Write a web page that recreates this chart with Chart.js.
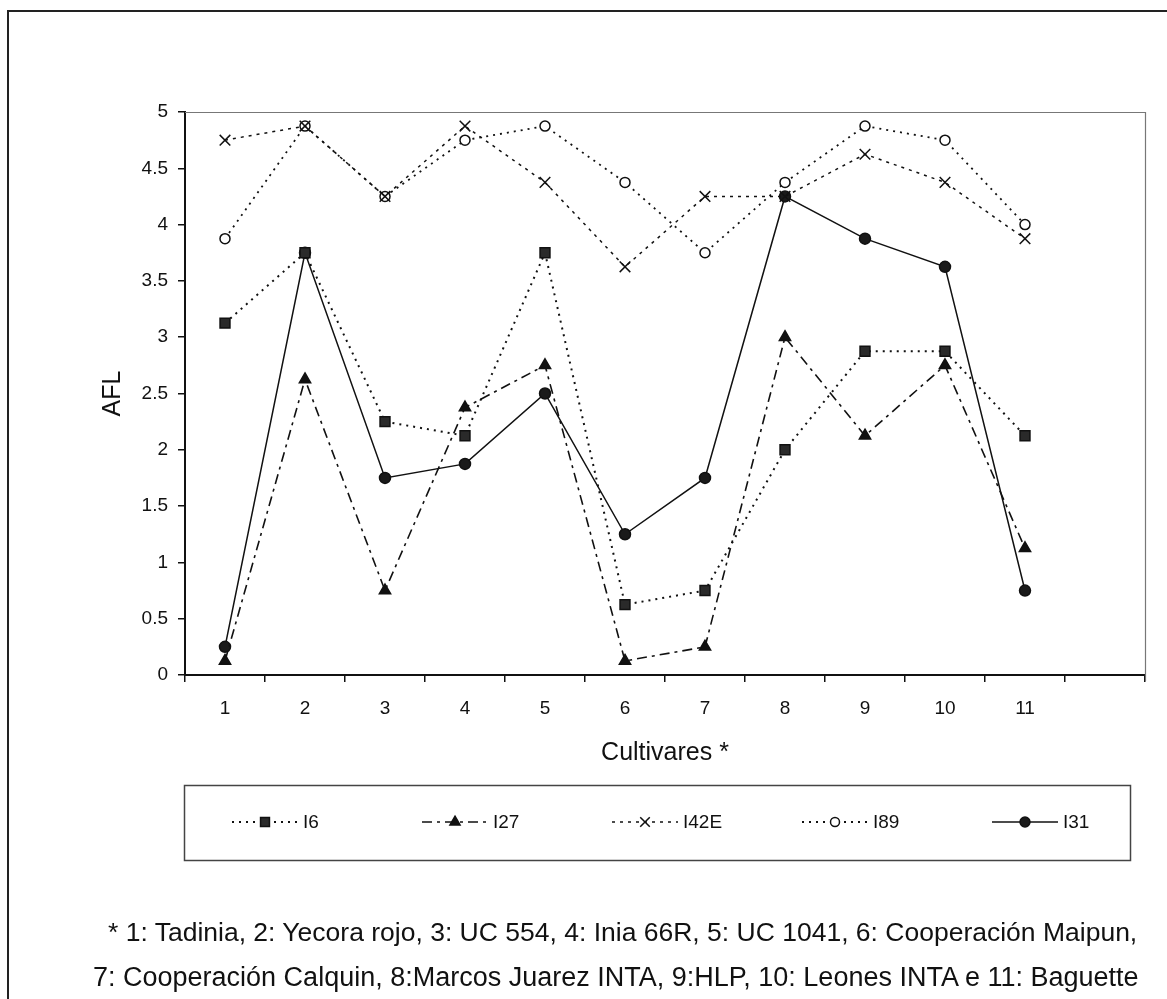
<!DOCTYPE html>
<html>
<head>
<meta charset="utf-8">
<script src="https://cdn.jsdelivr.net/npm/chart.js@4/dist/chart.umd.min.js"></script>
<style>
    body   { margin: 0; background: #fff; }
    #wrap  { position: relative; width: 1167px; height: 999px; overflow: hidden; }
    #frame { position: absolute; left: 7px; top: 10px; right: -10px; bottom: -10px;
             border-left: 2px solid #222; border-top: 2px solid #222; }
    canvas { position: absolute; left: 0; top: 0; }
    .note  { position: absolute; white-space: nowrap; font-family: Arial, "Liberation Sans", sans-serif;
             color: #111; line-height: 30px; }
</style>
</head>
<body>
<div id="wrap">
    <div id="frame"></div>
    <canvas id="afl" width="1167" height="999"></canvas>
    <div class="note" style="left:108px; top:917px; font-size:26.5px">* 1: Tadinia, 2: Yecora rojo, 3: UC 554, 4: Inia 66R, 5: UC 1041, 6: Cooperación Maipun,</div>
    <div class="note" style="left:93px; top:962px; font-size:27px">7: Cooperación Calquin, 8:Marcos Juarez INTA, 9:HLP, 10: Leones INTA e 11: Baguette</div>
</div>
<script>
// one empty slot after cultivar 11, the axis keeps it
let cultivares = ['1', '2', '3', '4', '5', '6', '7', '8', '9', '10', '11', '']

let i6   = [3.125, 3.75, 2.25, 2.125, 3.75, 0.625, 0.75, 2.0, 2.875, 2.875, 2.125]
let i27  = [0.125, 2.625, 0.75, 2.375, 2.75, 0.125, 0.25, 3.0, 2.125, 2.75, 1.125]
let i42e = [4.75, 4.875, 4.25, 4.875, 4.375, 3.625, 4.25, 4.25, 4.625, 4.375, 3.875]
let i89  = [3.875, 4.875, 4.25, 4.75, 4.875, 4.375, 3.75, 4.375, 4.875, 4.75, 4.0]
let i31  = [0.25, 3.75, 1.75, 1.875, 2.5, 1.25, 1.75, 4.25, 3.875, 3.625, 0.75]

let serie = (label, data, dash, style, radius, fill, width) => ({
    label:                label,
    data:                 data,
    borderColor:          '#111',
    borderWidth:          width,
    borderDash:           dash,
    pointStyle:           style,
    pointRadius:          radius,
    pointBackgroundColor: fill,
    pointBorderColor:     '#111',
    pointBorderWidth:     1.5,
    tension:              0
})

let datasets = [
    serie('I6',   i6,   [2, 5],        'rect',     7,   '#2a2a2a', 2),
    serie('I27',  i27,  [10, 5, 3, 5], 'triangle', 6.5, '#111',    1.6),
    serie('I42E', i42e, [3, 5],        'crossRot', 7.5, '#111',    1.5),
    serie('I89',  i89,  [2, 5],        'circle',   5,   '#fff',    1.8),
    serie('I31',  i31,  [],            'circle',   5.5, '#1a1a1a', 1.5)
]

// top/right border of the plot area and the boxed legend under the axis
let extras = {
    id: 'extras',
    afterDraw(chart) {
        let ctx = chart.ctx
        let a   = chart.chartArea

        ctx.save()
        ctx.strokeStyle = '#777'
        ctx.lineWidth   = 1.2
        ctx.beginPath()
        ctx.moveTo(a.left, a.top + 0.5)
        ctx.lineTo(a.right + 0.5, a.top + 0.5)
        ctx.lineTo(a.right + 0.5, a.bottom + 6)
        ctx.stroke()

        ctx.strokeStyle = '#444'
        ctx.lineWidth   = 1.5
        ctx.strokeRect(184.5, 785.5, 946, 75)

        let y = 822
        chart.data.datasets.forEach((ds, i) => {
            let x0 = 232 + 190 * i
            ctx.strokeStyle = ds.borderColor
            ctx.lineWidth   = ds.borderWidth
            ctx.setLineDash(ds.borderDash)
            ctx.beginPath()
            ctx.moveTo(x0, y)
            ctx.lineTo(x0 + 66, y)
            ctx.stroke()
            ctx.setLineDash([])

            ctx.fillStyle   = ds.pointBackgroundColor
            ctx.strokeStyle = ds.pointBorderColor
            ctx.lineWidth   = 1.5
            Chart.helpers.drawPoint(ctx, {
                pointStyle:  ds.pointStyle,
                radius:      ds.pointRadius * 0.9,
                rotation:    0,
                borderWidth: 1.5
            }, x0 + 33, y)

            ctx.fillStyle    = '#111'
            ctx.font         = '19px "Liberation Sans Narrow", "Arial Narrow", Arial, sans-serif'
            ctx.textBaseline = 'middle'
            ctx.textAlign    = 'left'
            ctx.fillText(ds.label, x0 + 71, y + 1)
        })
        ctx.restore()
    }
}

new Chart(document.getElementById('afl'), {
    type: 'line',
    data: { labels: cultivares, datasets: datasets },
    plugins: [extras],
    options: {
        responsive: false,
        animation:  false,
        layout: { padding: { left: 0, top: 112, right: 22, bottom: 224 } },
        plugins: {
            legend:  { display: false },
            tooltip: { enabled: false }
        },
        scales: {
            x: {
                offset: true,
                grid:   { offset: true, drawOnChartArea: false, drawTicks: true, tickLength: 7, color: '#111', lineWidth: 1.5 },
                border: { display: true, color: '#111', width: 2 },
                ticks:  { color: '#111', font: { family: 'Arial', size: 19 }, padding: 15, maxRotation: 0, autoSkip: false },
                title:  { display: true, text: 'Cultivares *', color: '#111', font: { family: 'Arial', size: 25 }, padding: { top: 0, bottom: 7 } },
                afterFit(scale) { scale.height = 100 }
            },
            y: {
                min: 0,
                max: 5,
                grid:   { drawOnChartArea: false, drawTicks: true, tickLength: 7, color: '#111', lineWidth: 1.5 },
                border: { display: true, color: '#111', width: 2 },
                ticks:  {
                    stepSize: 0.5,
                    color:    '#111',
                    font:     { family: 'Arial', size: 19 },
                    padding:  10,
                    callback: (v) => String(Math.round(v * 10) / 10)
                },
                title:  { display: true, text: 'AFL', color: '#111', font: { family: 'Arial', size: 25 }, padding: { top: 98, bottom: 0 } },
                afterFit(scale) { scale.width = 185 }
            }
        }
    }
})
</script>
</body>
</html>
